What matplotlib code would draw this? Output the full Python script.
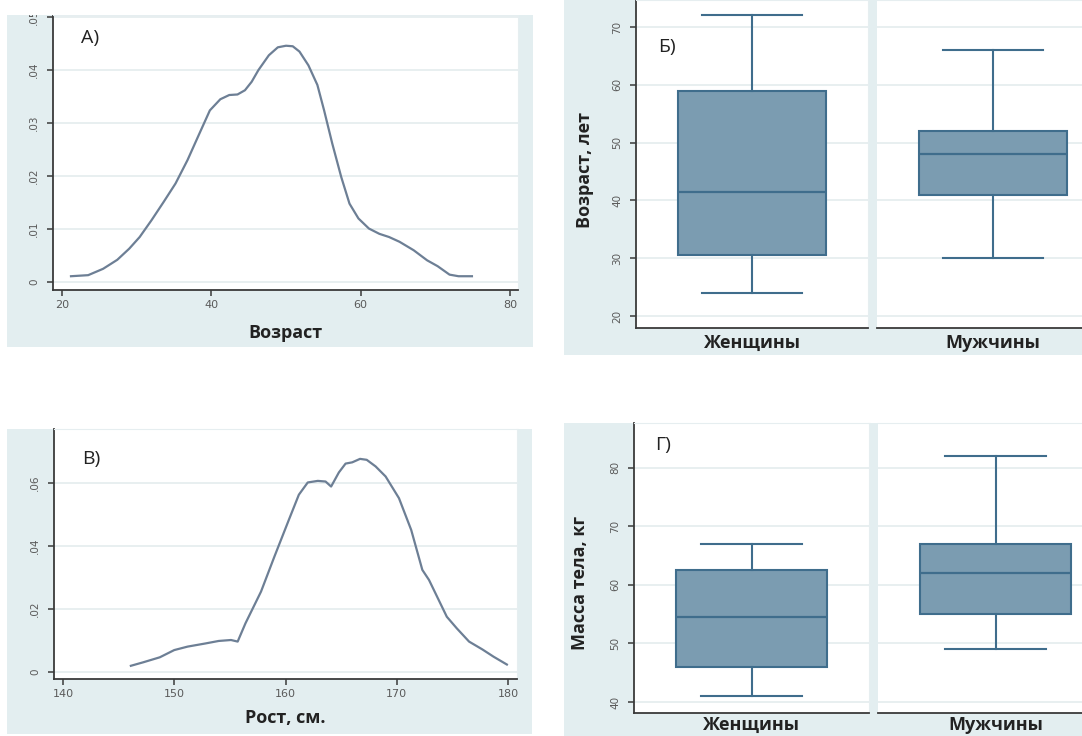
import matplotlib
matplotlib.use('Agg')
import matplotlib.pyplot as plt
from matplotlib.patches import Rectangle

plt.rcParams['font.family'] = ['Open Sans', 'DejaVu Sans']

# Плотность распределения возраста (панель А)
age_x = [21.2, 23.5, 25.5, 27.4, 29.0, 30.4, 32.0, 33.6, 35.2, 36.8, 38.2, 39.8,
         41.2, 42.4, 43.5, 44.5, 45.4, 46.3, 47.7, 48.9, 50.0, 50.9, 51.8, 53.0,
         54.2, 55.1, 56.2, 57.4, 58.5, 59.7, 61.1, 62.5, 63.8, 65.2, 67.1, 68.9,
         70.3, 71.9, 73.1, 74.9]
age_density = [0.0011, 0.0013, 0.0025, 0.0042, 0.0063, 0.0085, 0.0117, 0.0151,
               0.0186, 0.0230, 0.0274, 0.0324, 0.0345, 0.0353, 0.0354, 0.0362,
               0.0378, 0.0400, 0.0428, 0.0443, 0.0446, 0.0445, 0.0435, 0.0409,
               0.0372, 0.0324, 0.0261, 0.0198, 0.0148, 0.0120, 0.0101, 0.0091,
               0.0085, 0.0076, 0.0060, 0.0041, 0.0030, 0.0014, 0.0011, 0.0011]

# Плотность распределения роста (панель В)
height_x = [146.1, 147.2, 148.7, 150.0, 151.2, 152.8, 154.0, 155.1, 155.7, 156.4,
            157.8, 159.0, 160.3, 161.2, 162.0, 162.9, 163.6, 164.1, 164.8, 165.4,
            166.0, 166.7, 167.3, 168.1, 169.0, 170.2, 171.3, 172.3, 172.9, 174.5,
            175.4, 176.5, 177.7, 178.7, 179.9]
height_density = [0.0019, 0.0030, 0.0046, 0.0069, 0.0080, 0.0090, 0.0098, 0.0101,
                  0.0096, 0.0154, 0.0255, 0.0366, 0.0483, 0.0563, 0.0602, 0.0607,
                  0.0605, 0.0589, 0.0634, 0.0662, 0.0666, 0.0677, 0.0674, 0.0653,
                  0.0621, 0.0552, 0.0451, 0.0324, 0.0292, 0.0175, 0.0138, 0.0096,
                  0.0071, 0.0048, 0.0023]

groups = ['Женщины', 'Мужчины']
# Возраст по полу (панель Б): нижний ус, Q1, медиана, Q3, верхний ус
age_whislo = [24, 30]
age_q1 = [30.5, 41]
age_med = [41.4, 48]
age_q3 = [59, 52]
age_whishi = [72, 66]
# Масса тела по полу (панель Г)
mass_whislo = [41, 49]
mass_q1 = [46, 55]
mass_med = [54.5, 62]
mass_q3 = [62.5, 67]
mass_whishi = [67, 82]

W, H = 1082, 736
BG = '#e3eef0'
GRID = '#e4ecee'
AXC = '#3a3a3a'
TICKC = '#5a5a5a'
LINEC = '#6d7f95'
BOXFILL = '#7b9cb1'
BOXEDGE = '#3f6d8c'


def frac(x0, y0, x1, y1):
    return [x0 / W, 1 - y1 / H, (x1 - x0) / W, (y1 - y0) / H]


def add_bg(fig, x0, y0, x1, y1, color=BG, z=-5):
    fig.patches.append(Rectangle((x0 / W, 1 - y1 / H), (x1 - x0) / W, (y1 - y0) / H,
                                 transform=fig.transFigure, facecolor=color,
                                 edgecolor='none', zorder=z))


def style_axis(ax, yticks, ylabels, left=True):
    ax.set_facecolor('white')
    for side in ['top', 'right']:
        ax.spines[side].set_color('#e6eef0')
        ax.spines[side].set_linewidth(0.8)
    ax.spines['bottom'].set_color(AXC)
    ax.spines['bottom'].set_linewidth(1.3)
    if left:
        ax.spines['left'].set_color(AXC)
        ax.spines['left'].set_linewidth(1.3)
    else:
        ax.spines['left'].set_visible(False)
    ax.set_yticks(yticks)
    if left:
        ax.set_yticklabels(ylabels, rotation=90, va='center', fontsize=7.5,
                           color=TICKC, family=['DejaVu Sans'])
        ax.tick_params(axis='y', length=4, width=1.1, color=AXC, pad=6)
    else:
        ax.tick_params(axis='y', left=False, labelleft=False)
    ax.grid(True, axis='y', color=GRID, linewidth=1.2)
    ax.set_axisbelow(True)


fig = plt.figure(figsize=(W / 100, H / 100), dpi=100)
fig.patch.set_facecolor('white')

add_bg(fig, 7, 15, 533, 347)
add_bg(fig, 564, 0, 1082, 355)
add_bg(fig, 7, 429, 532, 734)
add_bg(fig, 564, 423, 1082, 736)

# --- Панель А ---
ax_a = fig.add_axes(frac(53, 15, 518, 290))
ax_a.plot(age_x, age_density, color=LINEC, linewidth=1.6)
ax_a.set_xlim(18.79, 81.07)
ax_a.set_ylim(-0.0015, 0.0504)
style_axis(ax_a, [0, 0.01, 0.02, 0.03, 0.04, 0.05], ['0', '.01', '.02', '.03', '.04', '.05'])
ax_a.set_xticks([20, 40, 60, 80])
ax_a.set_xticklabels(['20', '40', '60', '80'], fontsize=8, color=TICKC, family=['DejaVu Sans'])
ax_a.tick_params(axis='x', length=4, width=1.1, color=AXC)
ax_a.text(0.06, 0.9, 'A)', transform=ax_a.transAxes, fontsize=14, color='#222222')
fig.text(285 / W, 1 - 333 / H, 'Возраст', ha='center', va='center', fontsize=13,
         fontweight='bold', color='#222222')

# --- Панель В ---
ax_c = fig.add_axes(frac(54, 429, 517, 679))
ax_c.plot(height_x, height_density, color=LINEC, linewidth=1.6)
ax_c.set_xlim(139.19, 180.81)
ax_c.set_ylim(-0.0023, 0.0772)
style_axis(ax_c, [0, 0.02, 0.04, 0.06], ['0', '.02', '.04', '.06'])
ax_c.set_xticks([140, 150, 160, 170, 180])
ax_c.set_xticklabels(['140', '150', '160', '170', '180'], fontsize=8, color=TICKC,
                     family=['DejaVu Sans'])
ax_c.tick_params(axis='x', length=4, width=1.1, color=AXC)
ax_c.text(0.06, 0.86, 'B)', transform=ax_c.transAxes, fontsize=14, color='#222222')
fig.text(285 / W, 1 - 718 / H, 'Рост, см.', ha='center', va='center', fontsize=13,
         fontweight='bold', color='#222222')


def box_panel(boxes, ylim, yticks, label_y, label_va, tag, tag_pos, ylabel, ylabel_pos,
              whislo, q1, med, q3, whishi):
    axes = []
    for i, (x0, y0, x1, y1) in enumerate(boxes):
        ax = fig.add_axes(frac(x0, y0, x1, y1))
        stats = [{'whislo': whislo[i], 'q1': q1[i], 'med': med[i], 'q3': q3[i],
                  'whishi': whishi[i], 'fliers': []}]
        ax.bxp(stats, positions=[0], widths=0.64, capwidths=0.43, patch_artist=True,
               showfliers=False,
               boxprops=dict(facecolor=BOXFILL, edgecolor=BOXEDGE, linewidth=1.5),
               medianprops=dict(color=BOXEDGE, linewidth=1.6),
               whiskerprops=dict(color=BOXEDGE, linewidth=1.5),
               capprops=dict(color=BOXEDGE, linewidth=1.5))
        ax.set_xlim(-0.5, 0.5)
        ax.set_ylim(*ylim)
        style_axis(ax, yticks, [str(t) for t in yticks], left=(i == 0))
        ax.set_xticks([])
        fig.text((x0 + x1) / 2 / W, 1 - label_y / H, groups[i], ha='center', va=label_va,
                 fontsize=13, fontweight='bold', color='#222222')
        axes.append(ax)
    fig.text(tag_pos[0] / W, 1 - tag_pos[1] / H, tag, ha='left', va='center',
             fontsize=14, color='#222222')
    fig.text(ylabel_pos[0] / W, 1 - ylabel_pos[1] / H, ylabel, ha='center', va='center',
             rotation=90, fontsize=13, fontweight='bold', color='#222222')
    return axes


box_panel([(636, 0, 868, 328), (877, 0, 1109, 328)], (17.92, 74.67),
          [20, 30, 40, 50, 60, 70], 334, 'top', 'Б)', (658, 47), 'Возраст, лет', (585, 170),
          age_whislo, age_q1, age_med, age_q3, age_whishi)

box_panel([(634, 423, 869, 713), (878, 423, 1113, 713)], (38.12, 87.6),
          [40, 50, 60, 70, 80], 734, 'bottom', 'Г)', (655, 445), 'Масса тела, кг', (580, 583),
          mass_whislo, mass_q1, mass_med, mass_q3, mass_whishi)

# обрезка сверху, как в исходном рисунке
add_bg(fig, 0, 0, 545, 15, color='white', z=10)

fig.savefig('out.png', dpi=100)
